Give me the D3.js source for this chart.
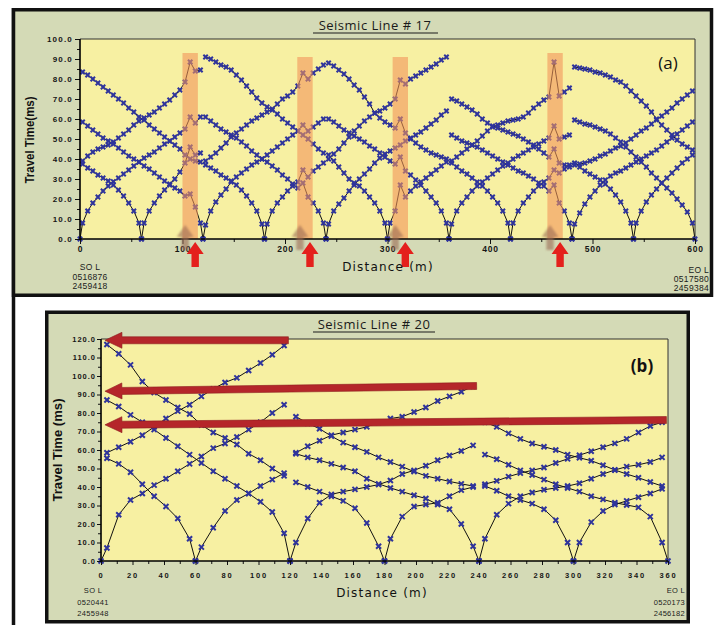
<!DOCTYPE html>
<html>
<head>
<meta charset="utf-8">
<script src="https://cdn.jsdelivr.net/npm/d3@7"></script>
<style>
  body { margin: 0; background: #fff; }
</style>
</head>
<body>
<svg id="fig" width="715" height="625"></svg>
<script>
// ---------- Seismic Line #17 (a): travel times (ms) at geophone stations ----------
// stations every 5 m, first at 2.5 m inside each 120 m spread; shot points have t = 0
const a1_m60R = [39,41.5,43.5,45,46,47,48.5,50.5,52.5,54.5,57,59,60.5,62,63.5,65.5,67.5,69.5,72,74.5,78.5,88.5,84,84.5];
const a1_0R   = [0,8,14,18,21,24,26.5,28.7,30.5,32.5,34.5,36.5,38.5,40.5,42,43.5,45.5,47.5,49,51,53,55,61,58,61];
const a1_60L  = [37.5,35.5,34,32,30.5,29,27,24.5,21.5,18,14,8,0];
const a1_60R  = [0,8,14,18,21.5,24.5,27.5,30,33.5,38,46,42,43];
const a1_120L = [58.5,56.5,54.5,52.5,50.5,49,47.5,45.5,43.5,41.5,40,38.5,36.5,35,33,31,29,27,25.5,24,21.5,22.5,16,8,0];
const a1_180L = [83.5,82,80,78,76,74,72,70,68,65.5,63.5,61,59.5,57,55,53,51,49,47,45,42,40,39,38.5];

const a2_60R  = [39,41,43,45.5,48,51,53,55,57,59,60.5,62,63.5,65,67.5,70,71.5,73.5,76.5,83,80,83,85,87];
const a2_120R = [0,7,14,18.5,22,25,28.5,31,33,35,37,38.5,40,42,44,46,48,50,52,54,57,54,56,58,60];
const a2_180L = [37,35.5,34,32,30.5,29,27,24.5,21.5,18,14,7.5,0];
const a2_180R = [0,7.5,14,18,21,24,26.5,28.5,34.5,31,34,36,38];
const a2_240L = [61,59,57,55,53.5,52,50.5,48.5,46.5,44,42,40,38.5,36.5,34.5,32,30,27.5,25.5,28,21,18,14,8,0];
const a2_300L = [91,90,88.5,87,86,84.5,82,79.5,76.5,73.5,70.5,68,66,64.5,62.5,60,58,56,54,52,50,47.5,45,43];

const a3_180R = [40,42.5,45,48,51,54,56.5,59,61,63,64,65.5,67.5,70,79.5,77.5,80,81.5,83,84.5,86,87.5,89.5,91];
const a3_240R = [0,7.5,14,17.5,20.5,24,27,30,32.5,35,38,40.5,42.5,44,45.5,47,49,50.5,52,53.5,55.5,57.5,59.5,62,64];
const a3_300L = [42,39,36,33,30,28,26.5,24,21,18,14,8,0];
const a3_300R = [0,8,14,27,21,24,26.5,28.5,30.5,32.5,34.5,36.5,38.5];
const a3_360L = [60,58.5,56.5,54.5,53,51.5,50,48.5,46.5,45,43,41,39,37.5,41,34,32,29.5,27,24,21,18,14,8,0];
const a3_420L = [88,86.5,84.5,82.5,80,77,74.5,71,67.5,63,60.5,58.5,57,55.5,60,53,50,48,46,44.5,43,42,41,40];

const a4_300R = [39,41,43,45,47,49,51.5,54,56,57,58,59,59.5,60,61,63,65.5,67.5,69.5,71,88.5,71.5,73.5,75.5];
const a4_360R = [0,7.5,14,18,21,24,26.5,28.5,30.5,32.5,34.5,36.5,38,40,41.5,43,44.5,46,47.5,49,50.5,56.5,50,51,52];
const a4_420L = [38,36,34,32.5,30.5,28.5,26.5,24,21,18,14,8,0];
const a4_420R = [0,8,14,18,21,24,26.5,28.5,30.5,34.5,33,35,37];
const a4_480L = [52,50.5,49,48,47,46,44.5,43,41.5,40,38.5,37,35.5,34,33,31.5,30,28,26.5,24,27,18,14,8,0];
const a4_540L = [70,69,67.5,66,64.5,62.5,60,58,56.5,55.5,54.5,53.5,52.5,51.5,50,48.5,47,45,43,41,45,38,37,36];

const a5_420R = [37,37.5,38,39,40,41.5,42.5,44,45.5,46.5,48,50,52,54,55.5,57.5,59.5,61.5,63.5,65.5,68,70,72,74];
const a5_480R = [0,7.5,13,17.5,21,24,27,29.5,31.5,33,34,35.5,37,38.5,40,41.5,43,44.5,46.5,48.5,50.5,52.5,54.5,56.5,58.5];
const a5_540L = [38,36,34,32.5,31,29.5,27.5,25,22,18.5,14,8,0];
const a5_540R = [0,8,14,18.5,22,25,28,30.5,33,35.5,38,40,42];
const a5_600L = [59.5,58.5,57.5,57,56,55,54,52.5,50.5,48.5,46,43.5,41,38.5,36,33,30.5,28,25.5,23,20,17,13.5,8,0];
const a5_660L = [86,85.5,85,84.5,83.5,83,82,81,79.5,78.5,76.5,74,71.5,69,66.5,63.5,60,57,54.5,52,49.5,47.5,46,44.5];

// anomaly zones marked on line 17 (m) and the band tops (ms)
const bandStart = [100, 212, 305, 456];
const bandEnd   = [115, 227, 320, 471];
const bandTop   = [93, 91, 91, 93];

// ---------- Seismic Line #20 (b): stations every 7.5 m, first at 3.75 m ----------
const b1_m60R = [58.5,61.5,64.5,68,72.5,77,81,84.5,89,93,96.5,99,103,107,111.5,116.5];
const b1_0R   = [0,7,25,33,36.5,41,44.5,48.5,52.5,56.5,61,63.5,67,71,75,80,84.5];
const b1_60L  = [55.5,52.5,48,41.5,35,29.5,23,12,0];
const b1_60R  = [0,7.5,18,27,33,36.5,40.5,44,47.5];
const b1_120L = [87,83.5,79,75,71,66.5,62,57.5,53,48.5,44.5,40.5,36.5,32,26.5,15,0];
const b1_180L = [117,112,106,97,91,87,83,79.5,73.5,69.5,66.5,63,58,54.5,50,46];

const b2_60R  = [58.5,62,65,68,69.5,71,72.5,75,77,78,80.5,83,86.5,89,91.5,94.5];
const b2_120R = [0,10,23,31.5,36,37.5,38.7,40,41.3,43.5,47,49,51.5,54.5,57,59.5,62.5];
const b2_180L = [42.5,40,37.5,35,32.5,28.5,20.5,8,0];
const b2_180R = [0,12,24,29.5,30.5,31.5,35,38.3,40];
const b2_240L = [58,56,54.5,52.5,50.5,48.5,44.5,41.7,39.5,37.5,35.5,33.8,30.5,28,20,8,0];
const b2_300L = [78,74.5,71.5,67.5,64,61.5,59,56,53.5,51,48.3,46,44.5,43,41.7,40.5];

const b3_180R = [41.5,43.3,45.6,47.5,49,50.5,53,55.2,57.2,59.3,61.5,63.6,66,69.5,73,75];
const b3_240R = [0,12,25,31,35,37,38.5,39.5,40.5,42,44.5,47,49.2,51,52,53.5,56];
const b3_300L = [40.5,38,35,33,31,28,22,10,0];
const b3_300R = [0,10,21,27,30.5,32.5,34.5,36.5,39];
const b3_360L = [57.5,55,52,49,46.5,44,41.5,39.5,37.5,35,33.3,31.5,30.3,29,24,10,0];
const b3_420L = [75,72.5,69,66,63.5,61.8,60,57.5,55.8,54.2,51.8,49.2,47,45,42.7,40.5];

// red arrows on line 20: [tail distance, tail time, tip distance, tip time]
const arrowsB = [[119, 119.3, 2.5, 119.3], [238.5, 94.6, 2.5, 91.8], [359, 76.2, 2.5, 73.6]];

// [spread start, shot position, side, times]
const branchesA = [
  [0, -60, "R", a1_m60R], [0, 0, "R", a1_0R], [0, 60, "L", a1_60L], [0, 60, "R", a1_60R], [0, 120, "L", a1_120L], [0, 180, "L", a1_180L],
  [120, 60, "R", a2_60R], [120, 120, "R", a2_120R], [120, 180, "L", a2_180L], [120, 180, "R", a2_180R], [120, 240, "L", a2_240L], [120, 300, "L", a2_300L],
  [240, 180, "R", a3_180R], [240, 240, "R", a3_240R], [240, 300, "L", a3_300L], [240, 300, "R", a3_300R], [240, 360, "L", a3_360L], [240, 420, "L", a3_420L],
  [360, 300, "R", a4_300R], [360, 360, "R", a4_360R], [360, 420, "L", a4_420L], [360, 420, "R", a4_420R], [360, 480, "L", a4_480L], [360, 540, "L", a4_540L],
  [480, 420, "R", a5_420R], [480, 480, "R", a5_480R], [480, 540, "L", a5_540L], [480, 540, "R", a5_540R], [480, 600, "L", a5_600L], [480, 660, "L", a5_660L]
];
const branchesB = [
  [0, -60, "R", b1_m60R], [0, 0, "R", b1_0R], [0, 60, "L", b1_60L], [0, 60, "R", b1_60R], [0, 120, "L", b1_120L], [0, 180, "L", b1_180L],
  [120, 60, "R", b2_60R], [120, 120, "R", b2_120R], [120, 180, "L", b2_180L], [120, 180, "R", b2_180R], [120, 240, "L", b2_240L], [120, 300, "L", b2_300L],
  [240, 180, "R", b3_180R], [240, 240, "R", b3_240R], [240, 300, "L", b3_300L], [240, 300, "R", b3_300R], [240, 360, "L", b3_360L], [240, 420, "L", b3_420L]
];

const FRAME_BG = "#d4dab6";
const PLOT_BG = "#f7f0a2";
const MARK = "#2f349c";

function xmark(r) {
  return `M${-r},${-r}L${r},${r}M${-r},${r}L${r},${-r}`;
}

function branchPoints(b, st) {
  const [start, shot, side, times] = b;
  const stations = d3.range(st.count).map(k => start + st.first + st.step * k);
  const inside = shot >= start && shot <= start + st.len;
  const ds = !inside ? stations
    : side === "L" ? [...stations.filter(d => d < shot), shot]
    : [shot, ...stations.filter(d => d > shot)];
  if (ds.length !== times.length) console.warn("length mismatch", start, shot, side);
  return ds.map((d, i) => ({ d, t: times[i] }));
}

const svg = d3.select("#fig");
svg.append("rect").attr("width", 715).attr("height", 625).attr("fill", "#fff");
svg.append("defs").append("filter").attr("id", "soft")
  .append("feGaussianBlur").attr("stdDeviation", 1.2);

// outer figure edge on the left
svg.append("line").attr("x1", 13.5).attr("x2", 13.5).attr("y1", 8).attr("y2", 625)
  .attr("stroke", "#111").attr("stroke-width", 3.5);

function drawPanel(o) {
  const g = svg.append("g");
  const [fx0, fy0, fx1, fy1] = o.frame;
  const [px0, py0, px1, py1] = o.plot;
  g.append("rect").attr("x", fx0).attr("y", fy0).attr("width", fx1 - fx0).attr("height", fy1 - fy0)
    .attr("fill", FRAME_BG).attr("stroke", "#111").attr("stroke-width", 3.5);

  const x = d3.scaleLinear().domain(o.xDomain).range([px0, px1]);
  const y = d3.scaleLinear().domain(o.yDomain).range([py1, py0]);

  g.append("rect").attr("x", px0).attr("y", py0).attr("width", px1 - px0).attr("height", py1 - py0)
    .attr("fill", PLOT_BG);
  g.append("path").attr("d", `M${px0},${py0}H${px1}V${py1}`)
    .attr("fill", "none").attr("stroke", "#333").attr("stroke-width", 1);

  const lines = o.branches.map(b => branchPoints(b, o.stations));
  const line = d3.line().x(p => x(p.d)).y(p => y(p.t));
  g.append("g").selectAll("path").data(lines).join("path")
    .attr("d", line).attr("fill", "none").attr("stroke", "#111").attr("stroke-width", 1);
  g.append("g").selectAll("path").data(lines.flat()).join("path")
    .attr("transform", p => `translate(${x(p.d)},${y(p.t)})`)
    .attr("d", xmark(o.markR)).attr("fill", "none").attr("stroke", MARK).attr("stroke-width", o.markW);

  if (o.bands) o.bands(g, x, y);

  // minor + major ticks
  const tickStyle = (s, size, spacing) => {
    s.attr("font-family", "Liberation Sans, Arial, sans-serif").attr("font-size", size).attr("font-weight", "bold");
    s.select(".domain").remove();
    s.selectAll("line").attr("stroke", "#111");
    s.selectAll("text").attr("fill", "#151515").attr("letter-spacing", spacing);
  };
  g.append("g").attr("transform", `translate(${px0},0)`)
    .call(d3.axisLeft(y).tickValues(o.yMinor).tickSize(3).tickFormat(""))
    .call(s => tickStyle(s, 8, 0));
  g.append("g").attr("transform", `translate(${px0},0)`)
    .call(d3.axisLeft(y).tickValues(o.yMajor).tickSize(o.tick).tickPadding(o.yPad).tickFormat(d3.format(".1f")))
    .call(s => tickStyle(s, o.yFont, o.ySpacing));
  g.append("g").attr("transform", `translate(0,${py1})`)
    .call(d3.axisBottom(x).tickValues(o.xMinor).tickSize(3).tickFormat(""))
    .call(s => tickStyle(s, 8, 0));
  g.append("g").attr("transform", `translate(0,${py1})`)
    .call(d3.axisBottom(x).tickValues(o.xMajor).tickSize(o.tick).tickPadding(o.xPad).tickFormat(d3.format("d")))
    .call(s => tickStyle(s, o.xFont, o.xSpacing));
  g.append("path").attr("d", `M${px0},${py0}V${py1}H${px1}`)
    .attr("fill", "none").attr("stroke", "#000").attr("stroke-width", 1.6);

  if (o.arrows) o.arrows(g, x, y);

  // texts
  g.append("text").attr("x", o.title.x).attr("y", o.title.y).attr("text-anchor", "middle")
    .attr("font-family", "Open Sans, sans-serif").attr("font-size", 13).attr("letter-spacing", 0.5)
    .attr("fill", "#1a1a1a").text(o.title.text);
  g.append("line").attr("x1", o.title.u[0]).attr("x2", o.title.u[1]).attr("y1", o.title.u[2]).attr("y2", o.title.u[2])
    .attr("stroke", "#1a1a1a").attr("stroke-width", 1);
  g.append("text").attr("x", o.tag.x).attr("y", o.tag.y).attr("text-anchor", "middle")
    .attr("font-family", "Open Sans, sans-serif").attr("font-size", 17).attr("font-weight", o.tag.w)
    .attr("fill", "#111").text(o.tag.text);
  g.append("text").attr("transform", `translate(${o.ylab.x},${o.ylab.y}) rotate(-90)`)
    .attr("text-anchor", "middle").attr("dy", "0.35em")
    .attr("font-family", "Liberation Sans, Arial, sans-serif").attr("font-size", 12).attr("font-weight", "bold")
    .attr("textLength", o.ylab.len).attr("lengthAdjust", "spacingAndGlyphs")
    .attr("fill", "#111").text(o.ylab.text);
  g.append("text").attr("x", o.xlab.x).attr("y", o.xlab.y).attr("text-anchor", "middle")
    .attr("font-family", "DejaVu Sans, sans-serif").attr("font-size", 12).attr("letter-spacing", 1.2)
    .attr("fill", "#111").text("Distance (m)");
  const ends = (lab, anchor) => g.append("g").selectAll("text").data(lab.text).join("text")
    .attr("x", lab.x).attr("y", (d, i) => lab.ys[i]).attr("text-anchor", anchor)
    .attr("font-family", "Liberation Sans, Arial, sans-serif").attr("font-size", lab.size).attr("letter-spacing", 0.3)
    .attr("fill", "#1a1a1a").text(d => d);
  ends(o.startLab, "middle");
  ends(o.endLab, "end");
}

// panel (a)
drawPanel({
  frame: [13.5, 9.75, 711.5, 295.25],
  plot: [80, 39, 695, 239],
  xDomain: [0, 600], yDomain: [0, 100],
  stations: { first: 2.5, step: 5, count: 24, len: 120 },
  branches: branchesA,
  markR: 2.2, markW: 2,
  yMajor: d3.range(0, 101, 10), yMinor: d3.range(5, 100, 10),
  xMajor: d3.range(0, 601, 100), xMinor: d3.range(50, 600, 100),
  tick: 5, yPad: 2, xPad: 2, yFont: 8, xFont: 8.5, ySpacing: 1.2, xSpacing: 0.8,
  title: { text: "Seismic Line # 17", x: 375, y: 30, u: [313, 438, 33] },
  tag: { text: "(a)", x: 668, y: 69, w: "normal" },
  ylab: { text: "Travel Time(ms)", x: 30, y: 140, len: 87 },
  xlab: { x: 388, y: 271 },
  startLab: { text: ["SO L", "0516876", "2459418"], x: 90, ys: [270, 279.5, 288.5], size: 8.5 },
  endLab: { text: ["EO L", "0517580", "2459384"], x: 709, ys: [273, 282, 291], size: 8.5 },
  bands: (g, x, y) => {
    g.append("g").selectAll("rect").data(bandStart).join("rect")
      .attr("x", (d, i) => x(d)).attr("width", (d, i) => x(bandEnd[i]) - x(d))
      .attr("y", (d, i) => y(bandTop[i])).attr("height", (d, i) => y(0) - y(bandTop[i]))
      .attr("fill", "#f2945a").attr("opacity", 0.6);
  },
  arrows: (g, x, y) => {
    const up = "M0,0L8.5,12L3.7,12L3.7,25L-3.7,25L-3.7,12L-8.5,12Z";
    const mids = bandStart.map((d, i) => (d + bandEnd[i]) / 2);
    g.append("g").selectAll("path").data(mids).join("path")
      .attr("transform", d => `translate(${x(d) - 5},${y(0) - 14})`)
      .attr("d", up).attr("fill", "#9b6a55").attr("opacity", 0.6).attr("filter", "url(#soft)");
    g.append("g").selectAll("path").data(mids).join("path")
      .attr("transform", d => `translate(${x(d) + 5},${y(0) + 3})`)
      .attr("d", up).attr("fill", "#e4201c");
  }
});

// panel (b)
drawPanel({
  frame: [46.75, 312.25, 688.25, 621.75],
  plot: [101, 339, 668, 561],
  xDomain: [0, 360], yDomain: [0, 120],
  stations: { first: 3.75, step: 7.5, count: 16, len: 120 },
  branches: branchesB,
  markR: 2.5, markW: 2,
  yMajor: d3.range(0, 121, 10), yMinor: d3.range(5, 120, 10),
  xMajor: d3.range(0, 361, 20), xMinor: d3.range(10, 360, 20),
  tick: 4, yPad: 1, xPad: 8, yFont: 7.5, xFont: 7.5, ySpacing: 1, xSpacing: 1.8,
  title: { text: "Seismic Line # 20", x: 374, y: 329, u: [313, 435, 332] },
  tag: { text: "(b)", x: 642, y: 372, w: "bold" },
  ylab: { text: "Travel Time (ms)", x: 58, y: 450, len: 103 },
  xlab: { x: 382, y: 597 },
  startLab: { text: ["SO L", "0520441", "2455948"], x: 93, ys: [593, 605, 616], size: 7.5 },
  endLab: { text: ["EO L", "0520173", "2456182"], x: 685, ys: [593, 605, 616], size: 7.5 },
  arrows: (g, x, y) => {
    g.append("g").selectAll("path").data(arrowsB).join("path")
      .attr("d", ([d0, t0, d1, t1]) => {
        const xa = x(d1), ya = y(t1), xb = x(d0), yb = y(t0);
        const len = Math.hypot(xb - xa, yb - ya), ang = Math.atan2(yb - ya, xb - xa);
        const pts = [[0, 0], [17, -8], [17, -3.5], [len, -3.5], [len, 3.5], [17, 3.5], [17, 8]]
          .map(([u, v]) => [xa + u * Math.cos(ang) - v * Math.sin(ang), ya + u * Math.sin(ang) + v * Math.cos(ang)]);
        return "M" + pts.map(p => p.join(",")).join("L") + "Z";
      })
      .attr("fill", "#b5262a").attr("stroke", "#8c1c1f").attr("stroke-width", 0.6);
  }
});
</script>
</body>
</html>
